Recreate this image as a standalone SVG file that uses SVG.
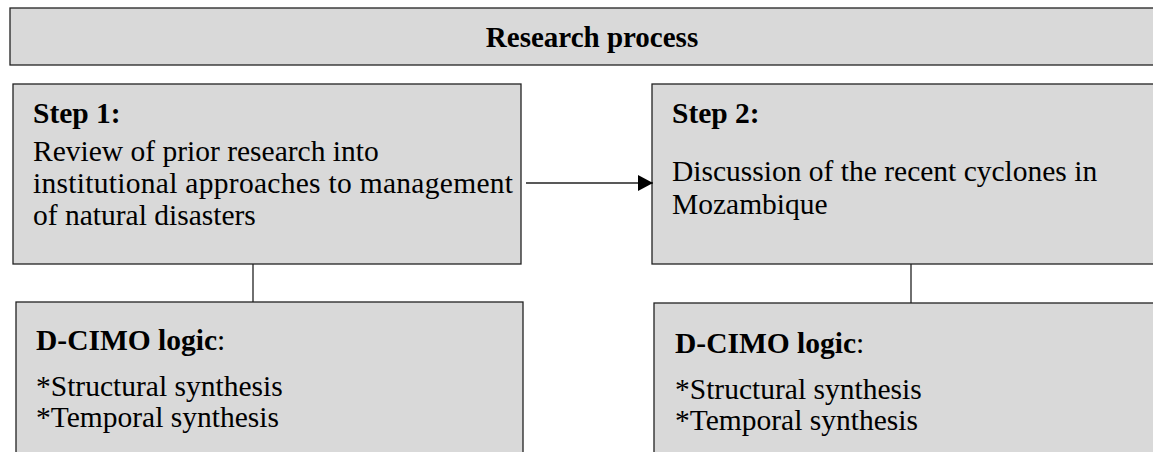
<svg xmlns="http://www.w3.org/2000/svg" width="1153" height="452" viewBox="0 0 1153 452">
<defs>
<style>
.box{fill:#d9d9d9;stroke:#222;stroke-width:1.3}
.t{font-family:"Liberation Serif","Times New Roman",serif;font-size:29.5px;fill:#000}
.b{font-weight:bold}
.ln{stroke:#222;stroke-width:1.3;fill:none}
</style>
<marker id="ah" markerWidth="16" markerHeight="16" refX="15" refY="8" orient="auto" markerUnits="userSpaceOnUse">
<path d="M0,0 L15,8 L0,16 Z" fill="#000"/>
</marker>
</defs>
<rect width="1153" height="452" fill="#fff"/>
<g id="title">
<rect class="box" x="10" y="8" width="1160" height="57"/>
<text class="t b" x="592" y="47" text-anchor="middle" style="font-size:29px">Research process</text>
</g>
<g id="step1">
<rect class="box" x="13" y="84" width="508" height="180"/>
<text class="t b" x="33" y="123">Step 1:</text>
<text class="t" x="33" y="161">Review of prior research into</text>
<text class="t" x="33" y="193" textLength="480" lengthAdjust="spacing">institutional approaches to management</text>
<text class="t" x="33" y="225">of natural disasters</text>
</g>
<g id="step2">
<rect class="box" x="652" y="84" width="520" height="180"/>
<text class="t b" x="672" y="123">Step 2:</text>
<text class="t" x="672" y="181">Discussion of the recent cyclones in</text>
<text class="t" x="672" y="214">Mozambique</text>
</g>
<g id="dcimo1">
<rect class="box" x="16" y="302" width="507" height="170"/>
<text class="t" x="36" y="350"><tspan class="b">D-CIMO logic</tspan>:</text>
<text class="t" x="36" y="396">*Structural synthesis</text>
<text class="t" x="36" y="427">*Temporal synthesis</text>
</g>
<g id="dcimo2">
<rect class="box" x="654" y="303" width="520" height="170"/>
<text class="t" x="675" y="353"><tspan class="b">D-CIMO logic</tspan>:</text>
<text class="t" x="675" y="399">*Structural synthesis</text>
<text class="t" x="675" y="430">*Temporal synthesis</text>
</g>
<g id="connectors">
<line class="ln" x1="526" y1="183" x2="653" y2="183" marker-end="url(#ah)"/>
<line class="ln" x1="253" y1="264" x2="253" y2="302"/>
<line class="ln" x1="911" y1="264" x2="911" y2="303"/>
</g>
</svg>
